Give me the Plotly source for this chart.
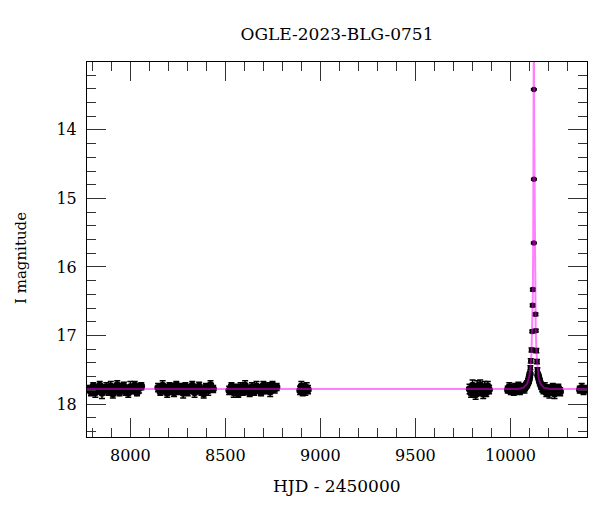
import plotly.graph_objects as go

# ---- data ----
# observing seasons (HJD - 2450000, I mag, error)
t1 = [7782, 7793, 7805, 7816, 7828, 7839, 7851, 7862, 7874, 7885, 7897, 7908, 7920,
      7931, 7943, 7954, 7966, 7977, 7989, 8000, 8012, 8023, 8035, 8046, 8058]
m1 = [17.78, 17.82, 17.74, 17.83, 17.79, 17.73, 17.84, 17.77, 17.75, 17.82, 17.74, 17.85, 17.79,
      17.72, 17.83, 17.77, 17.74, 17.82, 17.84, 17.75, 17.80, 17.73, 17.83, 17.77, 17.74]
e1 = [0.05, 0.06, 0.05, 0.07, 0.05, 0.06, 0.08, 0.05, 0.06, 0.05, 0.07, 0.06, 0.05,
      0.06, 0.05, 0.07, 0.06, 0.05, 0.06, 0.08, 0.05, 0.06, 0.05, 0.07, 0.05]

t2 = [8146, 8158, 8170, 8182, 8194, 8206, 8218, 8230, 8242, 8254, 8266, 8278, 8290,
      8302, 8314, 8326, 8338, 8350, 8362, 8374, 8386, 8398, 8410, 8422, 8436]
m2 = [17.76, 17.82, 17.73, 17.80, 17.84, 17.74, 17.78, 17.83, 17.72, 17.80, 17.75, 17.84, 17.74,
      17.82, 17.77, 17.73, 17.83, 17.80, 17.74, 17.82, 17.85, 17.75, 17.80, 17.72, 17.78]
e2 = [0.06, 0.05, 0.07, 0.05, 0.06, 0.05, 0.08, 0.06, 0.05, 0.06, 0.05, 0.07, 0.05,
      0.06, 0.05, 0.06, 0.07, 0.05, 0.06, 0.05, 0.06, 0.05, 0.07, 0.06, 0.05]

t3 = [8520, 8532, 8544, 8556, 8568, 8580, 8592, 8604, 8616, 8628, 8640,
      8652, 8664, 8676, 8688, 8700, 8712, 8724, 8736, 8748, 8760, 8770]
m3 = [17.80, 17.74, 17.83, 17.77, 17.85, 17.75, 17.82, 17.73, 17.80, 17.84, 17.75,
      17.82, 17.74, 17.78, 17.83, 17.73, 17.80, 17.75, 17.82, 17.72, 17.78, 17.75]
e3 = [0.06, 0.05, 0.07, 0.06, 0.05, 0.06, 0.05, 0.07, 0.06, 0.05, 0.06,
      0.05, 0.07, 0.06, 0.05, 0.06, 0.05, 0.06, 0.07, 0.05, 0.06, 0.05]

t4 = [8893, 8900, 8907, 8914, 8921, 8928, 8935]
m4 = [17.80, 17.74, 17.82, 17.75, 17.81, 17.76, 17.79]
e4 = [0.06, 0.07, 0.06, 0.05, 0.06, 0.07, 0.06]

t5 = [9785, 9793, 9801, 9809, 9817, 9825, 9833, 9841, 9849, 9857, 9865, 9873, 9881, 9888]
m5 = [17.78, 17.84, 17.73, 17.81, 17.86, 17.74, 17.82, 17.72, 17.80, 17.85, 17.75, 17.83, 17.74, 17.79]
e5 = [0.07, 0.06, 0.08, 0.06, 0.07, 0.08, 0.06, 0.07, 0.06, 0.07, 0.08, 0.06, 0.07, 0.06]

t6 = [9986, 9994, 10002, 10010, 10018, 10026, 10034, 10042, 10050, 10058, 10066, 10074, 10082, 10088,
      10093, 10097, 10100, 10103]
m6 = [17.79, 17.75, 17.81, 17.77, 17.82, 17.76, 17.80, 17.74, 17.81, 17.77, 17.75, 17.78, 17.73, 17.71,
      17.68, 17.65, 17.61, 17.56]
e6 = [0.05, 0.06, 0.05, 0.06, 0.05, 0.06, 0.05, 0.06, 0.05, 0.06, 0.05, 0.06, 0.05, 0.05,
      0.05, 0.05, 0.04, 0.04]

# the peak
tp = [10105, 10107, 10111, 10115, 10117, 10118, 10123.0, 10123.6, 10123.3,
      10132, 10133.5, 10136.5, 10140, 10142]
mp = [17.47, 17.37, 17.21, 16.94, 16.56, 16.33, 15.65, 14.72, 13.41,
      16.69, 16.93, 17.22, 17.38, 17.50]
ep = [0.03, 0.03, 0.03, 0.02, 0.02, 0.02, 0.01, 0.01, 0.01,
      0.02, 0.02, 0.03, 0.03, 0.03]

t7 = [10145, 10150, 10155, 10161, 10167, 10174, 10181, 10189, 10197, 10205, 10214,
      10223, 10232, 10242, 10252, 10262]
m7 = [17.58, 17.63, 17.68, 17.73, 17.76, 17.80, 17.75, 17.83, 17.77, 17.84, 17.79,
      17.75, 17.85, 17.80, 17.76, 17.82]
e7 = [0.04, 0.05, 0.05, 0.05, 0.06, 0.05, 0.06, 0.06, 0.05, 0.07, 0.06,
      0.05, 0.07, 0.06, 0.05, 0.06]

t8 = [10365, 10375, 10385, 10395]
m8 = [17.79, 17.76, 17.81, 17.78]
e8 = [0.05, 0.06, 0.05, 0.05]

# microlensing model curve
model_t = [7700, 10040, 10070, 10088, 10099, 10106, 10111, 10115, 10118, 10120, 10121,
           10122, 10123, 10123.5, 10124, 10125, 10126.5, 10128, 10130, 10133, 10137,
           10141, 10147, 10157, 10175, 10210, 10500]
model_m = [17.78, 17.78, 17.76, 17.70, 17.60, 17.45, 17.25, 16.90, 16.40, 15.70, 15.00,
           14.00, 13.00, 12.00, 13.00, 14.00, 15.00, 15.80, 16.40, 16.90, 17.25,
           17.45, 17.60, 17.70, 17.76, 17.78, 17.78]

title_text = "OGLE-2023-BLG-0751"
x_title = "HJD - 2450000"
y_title = "I magnitude"

FONT = "DejaVu Serif"

fig = go.Figure()

seasons = [(t1, m1, e1, 7.5), (t2, m2, e2, 7.5), (t3, m3, e3, 7.5), (t4, m4, e4, 7.5),
           (t5, m5, e5, 7.5), (t6, m6, e6, 7.5), (tp, mp, ep, 5.5), (t7, m7, e7, 7.5),
           (t8, m8, e8, 7.5)]
for t, m, e, s in seasons:
    fig.add_trace(go.Scatter(
        x=t, y=m, mode="markers",
        marker=dict(color="black", size=s),
        error_y=dict(type="data", array=e, visible=True, color="black",
                     thickness=1.5, width=3),
        showlegend=False, hoverinfo="skip"))

fig.add_trace(go.Scatter(
    x=model_t, y=model_m, mode="lines",
    line=dict(color="rgba(255,0,255,0.5)", width=2),
    showlegend=False, hoverinfo="skip"))

axis_common = dict(
    showgrid=False, zeroline=False,
    showline=True, linecolor="black", linewidth=1, mirror="allticks",
    ticks="inside", ticklen=19, tickwidth=1, tickcolor="#333",
    tickfont=dict(family=FONT, size=16, color="black"),
    tickformat="d",
)

fig.update_xaxes(range=[7772, 10403], tick0=0, dtick=500,
                 minor=dict(dtick=100, ticks="inside", ticklen=9, tickcolor="#333", tickwidth=1),
                 ticklabelstandoff=4,
                 **axis_common)
fig.update_yaxes(range=[18.48, 13.01], tick0=0, dtick=1,
                 minor=dict(dtick=0.2, ticks="inside", ticklen=9, tickcolor="#333", tickwidth=1),
                 ticklabelstandoff=6,
                 **axis_common)

# page body adds an 8 px offset, so the figure is laid out 8 px smaller
W, H = 592, 504
fig.update_layout(
    width=W, height=H,
    margin=dict(l=79, r=13, t=54, b=75, autoexpand=False),
    paper_bgcolor="white", plot_bgcolor="white",
    title=dict(text=title_text, x=329 / W, xanchor="center", y=1 - 26 / H, yanchor="middle",
               font=dict(family=FONT, size=17, color="black")),
    annotations=[
        dict(text=x_title, xref="paper", yref="paper", x=0.5, y=-49 / 375,
             xanchor="center", yanchor="middle", showarrow=False,
             font=dict(family=FONT, size=17, color="black")),
        dict(text=y_title, xref="paper", yref="paper", x=-66 / 500, y=1 - (258 - 62) / 375,
             xanchor="center", yanchor="middle", textangle=-90, showarrow=False,
             font=dict(family=FONT, size=15, color="black")),
    ],
)

fig.write_html("out.html")
